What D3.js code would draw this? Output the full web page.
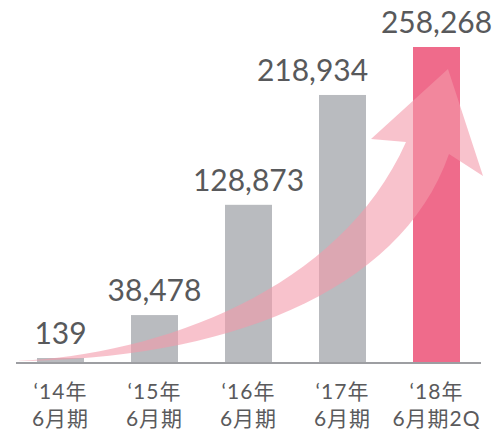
<!DOCTYPE html>
<html>
<head>
<meta charset="utf-8">
<script src="https://cdn.jsdelivr.net/npm/d3@7"></script>
<style>
  body { margin: 0; background: #fff; }
  text { font-family: Lato, "Noto Sans CJK JP", sans-serif; }
</style>
</head>
<body>
<div id="chart"></div>
<script>
// data
const years = ["‘14年", "‘15年", "‘16年", "‘17年", "‘18年"];
const periods = ["6月期", "6月期", "6月期", "6月期", "6月期2Q"];
const values = [139, 38478, 128873, 218934, 258268];
const highlight = [false, false, false, false, true];

const width = 494, height = 431;
const baseY = 362;

var svg = d3.select("#chart")
  .append("svg")
    .attr("width", width)
    .attr("height", height);

var x = d3.scaleBand()
  .domain(d3.range(values.length))
  .range([13.5, 483.5])
  .paddingInner(0.5)
  .paddingOuter(0.25);

var y = d3.scaleLinear()
  .domain([0, d3.max(values)])
  .range([baseY, 47]);

// bars (tiny first one still shows a sliver)
svg.selectAll(".bar")
  .data(values)
  .join("rect")
  .attr("class", "bar")
  .attr("x", (d, i) => x(i))
  .attr("width", x.bandwidth())
  .attr("y", d => Math.min(y(d), baseY - 4))
  .attr("height", d => Math.max(baseY - y(d), 4))
  .style("fill", (d, i) => highlight[i] ? "#ef6b8b" : "#b9bbbf");

// baseline
svg.append("line")
  .attr("x1", 16).attr("x2", 481)
  .attr("y1", baseY + 1).attr("y2", baseY + 1)
  .style("stroke", "#9d9ea2")
  .style("stroke-width", 2);

// growth arrow
var arrow = d3.path();
arrow.moveTo(16, 361);
arrow.bezierCurveTo(160, 355, 340, 290, 406, 142);
arrow.lineTo(371, 139);
arrow.lineTo(448, 69);
arrow.lineTo(483, 176);
arrow.lineTo(449, 154);
arrow.bezierCurveTo(400, 295, 220, 360, 16, 361);
arrow.closePath();

svg.append("path")
  .attr("d", arrow.toString())
  .style("fill", "#f39aaa")
  .style("opacity", 0.6);

// value labels
svg.selectAll(".val")
  .data(values)
  .join("text")
  .attr("class", "val")
  .attr("x", (d, i) => x(i) + x.bandwidth() / 2 + (i === 3 ? -30 : 0))
  .attr("y", d => Math.min(y(d), baseY - 4) - 14)
  .attr("text-anchor", "middle")
  .style("font-size", "30px")
  .style("fill", "#58595b")
  .text(d => d3.format(",")(d));

// category labels
var cat = svg.selectAll(".cat")
  .data(years)
  .join("text")
  .attr("class", "cat")
  .attr("text-anchor", "middle")
  .style("font-size", "21px")
  .style("letter-spacing", "1px")
  .style("fill", "#5a5a5c");

cat.append("tspan")
  .attr("x", (d, i) => x(i) + x.bandwidth() / 2)
  .attr("y", 399)
  .text(d => d);

cat.append("tspan")
  .attr("x", (d, i) => x(i) + x.bandwidth() / 2)
  .attr("y", 426)
  .text((d, i) => periods[i]);
</script>
</body>
</html>
